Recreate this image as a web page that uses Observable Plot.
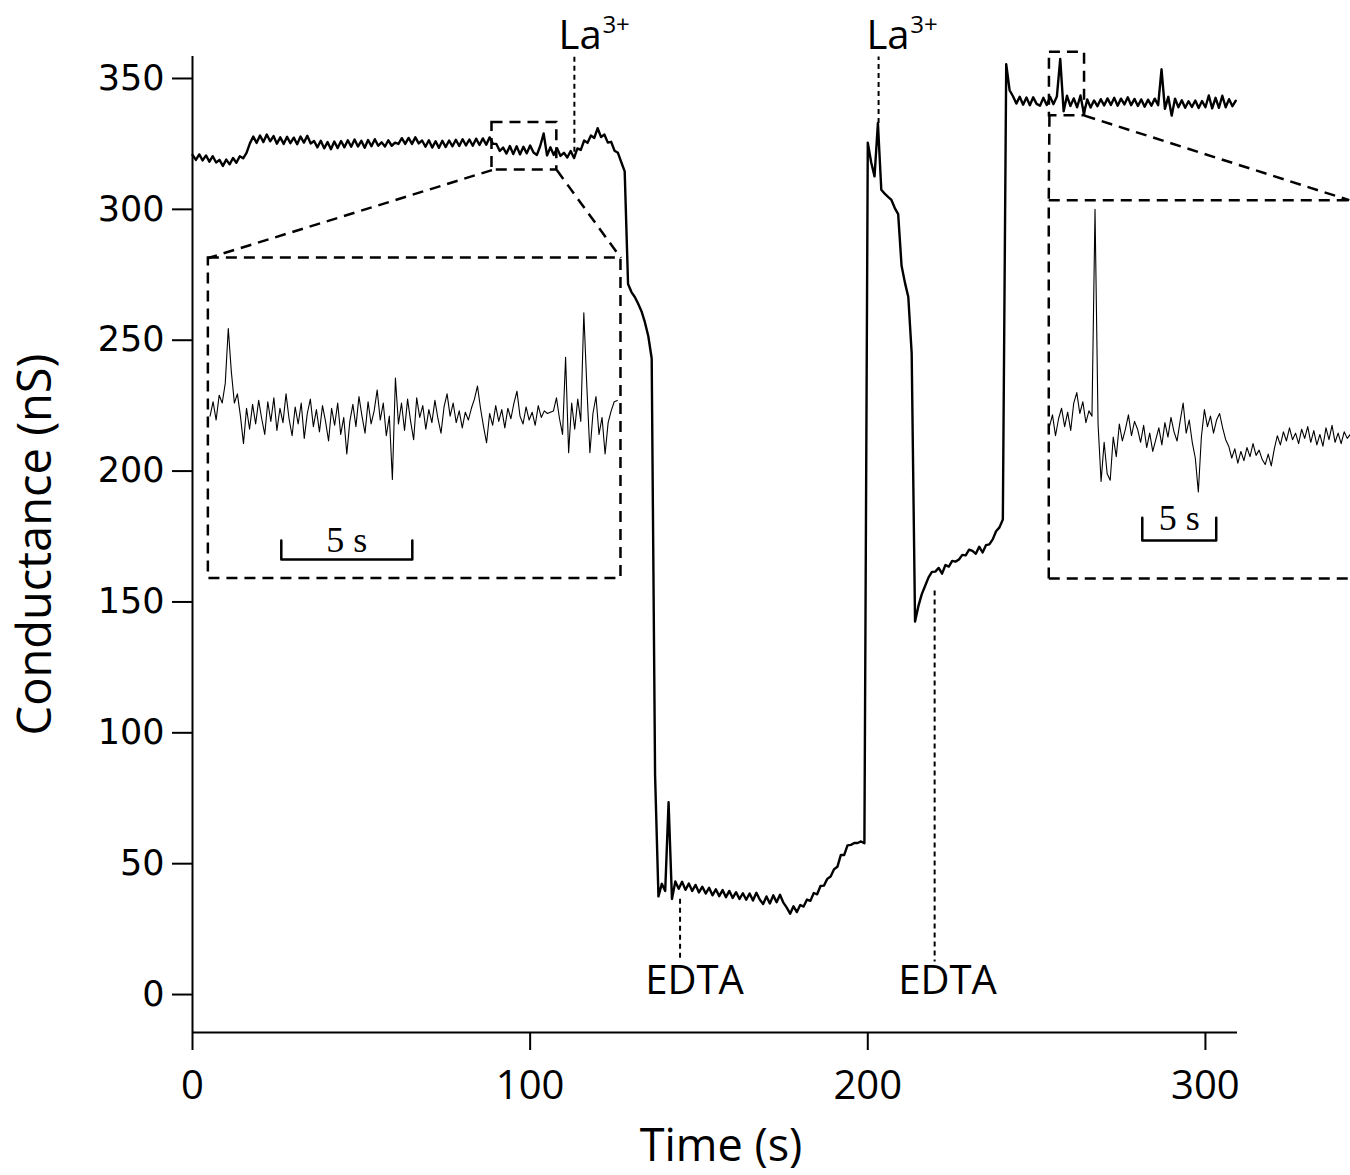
<!DOCTYPE html>
<html><head><meta charset="utf-8">
<script src="https://cdn.jsdelivr.net/npm/d3@7"></script>
<script src="https://cdn.jsdelivr.net/npm/@observablehq/plot@0.6"></script>
<style>
body{margin:0;background:#fff;}
</style></head><body><div id="chart"></div>
<script>
// ---- main recording: conductance (nS), one sample per second from t = 0 s ----
const sampleInterval = 1;
const conductance = [
320.8,318.9,321.0,318.7,320.6,318.2,320.3,317.9,318.9,316.6,
319.0,317.2,319.6,317.8,320.3,319.5,321.6,325.2,327.8,325.4,
328.2,325.7,328.6,326.0,328.0,325.1,327.5,325.0,327.7,325.3,
327.4,324.9,327.8,325.5,328.1,325.2,326.1,323.7,326.2,323.3,
325.7,323.0,325.9,323.4,326.1,323.7,326.4,323.9,326.7,324.0,
326.2,323.5,326.5,324.1,326.8,324.3,325.6,324.0,326.4,324.3,
325.5,325.0,327.2,325.0,327.3,325.0,327.5,325.2,326.3,323.9,
326.4,323.6,326.0,323.5,326.2,323.8,326.3,324.1,326.6,324.2,
326.8,324.4,326.7,324.3,327.0,324.6,327.1,324.7,327.5,325.0,
325.0,322.3,323.6,321.3,324.2,321.1,324.1,321.0,323.9,321.4,
324.4,321.7,320.8,324.3,329.0,320.6,323.7,320.8,323.3,320.4,
321.6,319.8,322.3,319.6,323.3,322.7,326.3,325.4,328.2,327.3,
331.0,327.6,328.6,325.5,325.8,322.4,321.6,318.0,314.5,271.5,
268.4,266.5,263.9,261.0,256.8,251.5,243.0,84.0,37.5,42.3,
39.6,73.5,36.5,43.2,40.4,43.1,40.0,42.4,39.6,41.9,
39.0,41.2,38.6,40.8,37.9,40.2,37.6,39.9,37.2,39.6,
36.9,39.1,36.5,38.7,36.2,38.6,35.9,38.9,36.3,34.6,
37.5,34.8,37.9,35.3,38.1,35.1,33.2,30.9,33.7,31.5,
34.2,33.6,36.3,35.8,38.8,38.3,41.5,41.6,44.2,45.1,
47.9,48.8,53.3,53.3,57.0,57.2,57.9,57.9,58.5,57.8,
325.5,318.0,312.6,333.0,307.5,306.0,304.8,303.6,300.5,298.2,
278.5,272.0,266.5,245.0,142.5,148.5,153.0,156.2,159.4,161.5,
161.6,163.0,160.8,164.1,163.5,165.7,165.4,166.2,168.0,167.8,
170.0,169.5,168.4,171.1,168.9,171.7,172.0,173.9,177.0,178.5,
181.5,355.5,345.5,343.2,340.4,343.0,340.0,342.7,339.8,342.8,
340.3,339.6,342.6,339.9,343.0,340.2,343.1,357.5,337.5,343.4,
339.5,342.4,339.0,343.5,336.5,342.0,338.9,341.6,339.4,342.1,
339.7,342.4,339.9,342.6,339.6,342.3,340.1,342.8,339.8,342.2,
339.5,342.0,339.2,341.9,339.6,342.3,339.8,353.5,338.4,343.0,
335.8,342.3,339.0,341.7,338.8,341.3,339.1,341.6,338.7,341.4,
339.0,343.5,338.6,342.6,338.8,343.4,339.0,342.1,339.4,341.5
];

// ---- magnified insets, drawn in the main frame (x: s, y: nS of the frame) ----
const insetLeftStart = 5.2, insetLeftStep = 0.9;
const insetLeft = [
221.0,226.5,219.5,229.0,226.0,233.5,254.5,238.0,226.0,229.5,
221.0,210.5,224.0,216.0,225.5,218.0,227.0,220.0,214.0,226.5,
219.0,228.0,215.5,224.0,218.5,229.5,220.0,213.5,224.5,218.0,
226.0,212.5,222.0,227.5,217.0,223.5,215.0,225.0,219.0,211.5,
224.0,217.5,226.0,214.0,220.5,206.5,219.0,225.5,217.0,228.5,
221.0,214.5,226.5,218.0,223.0,231.0,219.5,226.0,213.5,221.0,
196.8,235.5,218.0,226.0,215.5,227.5,219.0,212.0,228.0,220.5,
225.0,216.0,223.5,218.5,227.0,220.0,214.5,224.5,229.5,221.0,
226.0,218.5,223.0,216.5,222.5,219.5,224.0,227.5,232.5,224.0,
217.0,210.8,222.0,217.5,225.0,219.0,223.5,216.5,224.0,220.0,
226.0,230.5,221.0,218.0,224.5,219.5,222.5,217.5,225.0,220.5,
223.0,222.0,222.5,223.0,228.0,220.0,214.0,243.5,207.0,226.0,
216.0,227.5,219.0,260.5,232.0,207.0,222.0,228.5,214.0,220.5,
206.5,218.5,223.0,226.5,227.0
];
const insetRightStart = 253.8, insetRightStep = 0.9;
const insetRight = [
217.0,221.5,213.5,220.0,224.0,217.0,222.5,215.5,226.0,230.0,
222.0,226.5,218.5,223.0,221.0,300.0,218.0,196.0,211.0,199.0,
196.5,213.0,205.5,218.0,211.5,216.0,221.5,213.5,219.0,216.0,
211.0,217.5,209.0,214.5,207.5,212.0,216.5,210.0,218.5,213.0,
220.5,215.0,211.5,219.0,226.0,214.5,219.5,211.0,205.0,192.0,
213.0,223.5,217.0,221.0,214.5,219.5,222.0,216.5,212.0,209.5,
205.0,208.5,203.0,207.5,204.0,209.0,205.5,210.5,206.0,208.0,
204.5,202.5,206.5,202.0,208.5,213.5,210.0,215.0,211.5,216.5,
212.0,214.5,210.5,216.0,212.5,217.0,211.0,215.5,210.0,214.0,
209.5,216.5,212.0,217.5,211.0,214.5,210.5,215.0,212.5,214.0
];

// ---- axes ----
const xDomain = [0, 309.5];
const yDomain = [-14.5, 358.4];
const xTicks = [0, 100, 200, 300];
const yTicks = [0, 50, 100, 150, 200, 250, 300, 350];

// ---- dashed zoom boxes and connectors ----
const zoomBoxes = [
  {x1: 88.7, x2: 107.9, y1: 315, y2: 333.2},
  {x1: 253.8, x2: 264.2, y1: 335.8, y2: 360}
];
const insetBoxes = [{x1: 4.7, x2: 126.9, y1: 159, y2: 281.4}];
const openInsetEdges = [ // right inset runs off the page edge
  {x1: 253.6, y1: 303.5, x2: 345, y2: 303.5},
  {x1: 253.6, y1: 159, x2: 345, y2: 159},
  {x1: 253.6, y1: 159, x2: 253.6, y2: 303.5}
];
const connectors = [
  {x1: 88.7, y1: 315, x2: 4.7, y2: 281.4},
  {x1: 107.9, y1: 315, x2: 126.9, y2: 281.4},
  {x1: 253.8, y1: 335.8, x2: 253.6, y2: 303.5},
  {x1: 264.2, y1: 335.8, x2: 342.6, y2: 303.5}
];
const scaleBars = [
  {t0: 26.3, t1: 65.1, base: 166.2, top: 173.5, label: "5 s", labelY: 173.5},
  {t0: 281.3, t1: 303.2, base: 173.5, top: 182.2, label: "5 s", labelY: 181.8}
];

// ---- additions (La³⁺ above, EDTA below) ----
const laAdditions = [
  {name: "La", sup: "3+", t: 113.1, from: 322, to: 358.4, textT: 108.4, supT: 121.4},
  {name: "La", sup: "3+", t: 203.2, from: 333, to: 358.4, textT: 199.6, supT: 212.6}
];
const edtaAdditions = [
  {name: "EDTA", t: 144.4, from: 36.6, to: 13.0, textT: 148.7},
  {name: "EDTA", t: 219.8, from: 154.4, to: 12.6, textT: 223.6}
];
const laTextY = 366, laSupY = 370.5, edtaTextY = 5;

const trace = conductance.map((g, i) => ({t: i * sampleInterval, g}));
const insetL = insetLeft.map((g, i) => ({t: insetLeftStart + i * insetLeftStep, g}));
const insetR = insetRight.map((g, i) => ({t: insetRightStart + i * insetRightStep, g}));
const barPaths = scaleBars.flatMap((b, k) => [
  {k, t: b.t0, g: b.top}, {k, t: b.t0, g: b.base}, {k, t: b.t1, g: b.base}, {k, t: b.t1, g: b.top}
]);

const sansFont = "'Open Sans',sans-serif";
const boxDash = "11,7";

const chart = Plot.plot({
  width: 1350,
  height: 1175,
  marginLeft: 192,
  marginRight: 113,
  marginTop: 56,
  marginBottom: 143,
  style: {fontFamily: sansFont, background: "white", color: "black", overflow: "visible"},
  x: {domain: xDomain},
  y: {domain: yDomain},
  marks: [
    Plot.axisX({ticks: xTicks, tickSize: 18, tickPadding: 20, label: null, fontSize: 40, strokeWidth: 2, fontFamily: sansFont}),
    Plot.axisY({ticks: yTicks, tickSize: 20, tickPadding: 8, label: null, fontSize: 35, strokeWidth: 2, fontFamily: "'DejaVu Sans',sans-serif"}),
    Plot.ruleX([xDomain[0]], {y1: yDomain[0], y2: yDomain[1], strokeWidth: 2}),
    Plot.ruleY([yDomain[0]], {x1: xDomain[0], x2: xDomain[1], strokeWidth: 2}),
    // addition markers (dashed)
    Plot.link(laAdditions, {x1: "t", x2: "t", y1: "from", y2: "to", strokeWidth: 2, strokeDasharray: "5,4"}),
    Plot.link(edtaAdditions, {x1: "t", x2: "t", y1: "from", y2: "to", strokeWidth: 2, strokeDasharray: "5,4"}),
    // zoom boxes and insets
    Plot.rect(zoomBoxes, {x1: "x1", x2: "x2", y1: "y1", y2: "y2", fill: "none", stroke: "black", strokeWidth: 2.5, strokeDasharray: boxDash}),
    Plot.rect(insetBoxes, {x1: "x1", x2: "x2", y1: "y1", y2: "y2", fill: "none", stroke: "black", strokeWidth: 2.5, strokeDasharray: boxDash}),
    Plot.link(openInsetEdges, {x1: "x1", y1: "y1", x2: "x2", y2: "y2", strokeWidth: 2.5, strokeDasharray: boxDash}),
    Plot.link(connectors, {x1: "x1", y1: "y1", x2: "x2", y2: "y2", strokeWidth: 2.5, strokeDasharray: boxDash}),
    Plot.line(insetL, {x: "t", y: "g", strokeWidth: 1.1}),
    Plot.line(insetR, {x: "t", y: "g", strokeWidth: 1.1}),
    Plot.line(barPaths, {x: "t", y: "g", z: "k", strokeWidth: 2.5}),
    Plot.text(scaleBars, {x: d => (d.t0 + d.t1) / 2, y: "labelY", text: "label", fontSize: 36, fontFamily: "'Liberation Serif',serif"}),
    // main trace
    Plot.line(trace, {x: "t", y: "g", strokeWidth: 2.4}),
    // labels
    Plot.text(laAdditions, {x: "textT", y: () => laTextY, text: "name", fontSize: 40, textAnchor: "start"}),
    Plot.text(laAdditions, {x: "supT", y: () => laSupY, text: "sup", fontSize: 24, textAnchor: "start"}),
    Plot.text(edtaAdditions, {x: "textT", y: () => edtaTextY, text: "name", fontSize: 40, textAnchor: "middle"}),
    Plot.text(["Conductance (nS)"], {frameAnchor: "left", dx: -157, rotate: -90, fontSize: 47, textAnchor: "middle"}),
    Plot.text(["Time (s)"], {frameAnchor: "bottom", dy: 114, dx: 6, fontSize: 45, textAnchor: "middle", lineAnchor: "middle"})
  ]
});
document.getElementById("chart").append(chart);
</script></body></html>
